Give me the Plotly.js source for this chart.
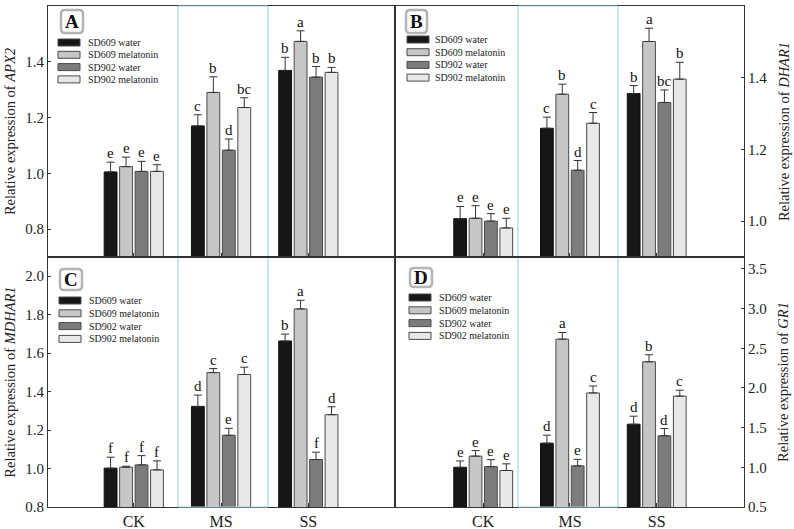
<!DOCTYPE html>
<html>
<head>
<meta charset="utf-8">
<script src="https://cdn.plot.ly/plotly-3.0.1.min.js"></script>
<style>
  html, body { margin: 0; padding: 0; background: #fff; }
  #chart { width: 794px; height: 529px; }
</style>
</head>
<body>
<div id="chart"></div>
<script>
// Treatments on the x axis and the four genotype/treatment series
const categories = ['CK', 'MS', 'SS'];
const seriesNames = ['SD609 water', 'SD609 melatonin', 'SD902 water', 'SD902 melatonin'];
const seriesColors = ['#161616', '#c6c6c6', '#7c7c7c', '#e8e8e8'];

// APX2 relative expression (rows follow seriesNames, columns follow categories)
const APX2_mean = [
  [1.005, 1.170, 1.369],
  [1.024, 1.290, 1.473],
  [1.007, 1.083, 1.345],
  [1.007, 1.236, 1.362]
];
const APX2_err = [
  [0.035, 0.040, 0.047],
  [0.034, 0.056, 0.038],
  [0.036, 0.040, 0.038],
  [0.024, 0.035, 0.018]
];
const APX2_letters = [
  ['e', 'c', 'b'],
  ['e', 'b', 'a'],
  ['e', 'd', 'b'],
  ['e', 'bc', 'b']
];

// DHAR1
const DHAR1_mean = [
  [1.007, 1.259, 1.356],
  [1.008, 1.354, 1.501],
  [1.000, 1.142, 1.331],
  [0.981, 1.273, 1.396]
];
const DHAR1_err = [
  [0.034, 0.031, 0.022],
  [0.035, 0.028, 0.037],
  [0.021, 0.027, 0.035],
  [0.027, 0.030, 0.047]
];
const DHAR1_letters = [
  ['e', 'c', 'b'],
  ['e', 'b', 'a'],
  ['e', 'd', 'bc'],
  ['e', 'c', 'b']
];

// MDHAR1
const MDHAR1_mean = [
  [1.002, 1.323, 1.663],
  [1.007, 1.499, 1.830],
  [1.019, 1.173, 1.047],
  [0.993, 1.489, 1.280]
];
const MDHAR1_err = [
  [0.057, 0.059, 0.036],
  [0.005, 0.021, 0.045],
  [0.048, 0.036, 0.038],
  [0.047, 0.038, 0.041]
];
const MDHAR1_letters = [
  ['f', 'd', 'b'],
  ['f', 'c', 'a'],
  ['f', 'e', 'f'],
  ['f', 'c', 'd']
];

// GR1
const GR1_mean = [
  [1.000, 1.304, 1.543],
  [1.141, 2.615, 2.330],
  [1.009, 1.018, 1.397],
  [0.960, 1.937, 1.897]
];
const GR1_err = [
  [0.080, 0.101, 0.101],
  [0.070, 0.084, 0.088],
  [0.088, 0.083, 0.092],
  [0.084, 0.088, 0.075]
];
const GR1_letters = [
  ['e', 'd', 'd'],
  ['e', 'a', 'b'],
  ['e', 'e', 'd'],
  ['e', 'c', 'c']
];

const FONT = '"Liberation Serif", "Times New Roman", Times, serif';
const AXIS_COLOR = '#333';
const BARGAP = 0.291;
const GROUPGAP = 0.17;
const SLOT = (1 - BARGAP) / seriesNames.length;

// figure geometry in pixels
const W = 794, H = 529;
const M = { l: 48, r: 50, t: 6, b: 22 };
const PW = W - M.l - M.r, PH = H - M.t - M.b;
const px = x => (x - M.l) / PW;
const py = y => (H - M.b - y) / PH;

const panels = [
  { key: 'A', gene: 'APX2', mean: APX2_mean, err: APX2_err, letters: APX2_letters,
    xa: 'x', ya: 'y', range: [0.7, 1.6], ticks: [0.8, 1.0, 1.2, 1.4, 1.6], side: 'left' },
  { key: 'B', gene: 'DHAR1', mean: DHAR1_mean, err: DHAR1_err, letters: DHAR1_letters,
    xa: 'x2', ya: 'y2', range: [0.9, 1.6], ticks: [1.0, 1.2, 1.4, 1.6], side: 'right' },
  { key: 'C', gene: 'MDHAR1', mean: MDHAR1_mean, err: MDHAR1_err, letters: MDHAR1_letters,
    xa: 'x3', ya: 'y3', range: [0.8, 2.1], ticks: [0.8, 1.0, 1.2, 1.4, 1.6, 1.8, 2.0], side: 'left' },
  { key: 'D', gene: 'GR1', mean: GR1_mean, err: GR1_err, letters: GR1_letters,
    xa: 'x4', ya: 'y4', range: [0.5, 3.65], ticks: [0.5, 1.0, 1.5, 2.0, 2.5, 3.0, 3.5], side: 'right' }
];

const xIdx = categories.map((c, i) => i);
const traces = [];
const annotations = [];
const shapes = [];

panels.forEach(p => {
  seriesNames.forEach((name, s) => {
    traces.push({
      type: 'bar',
      name: name,
      x: xIdx,
      y: p.mean[s],
      xaxis: p.xa,
      yaxis: p.ya,
      showlegend: false,
      marker: { color: seriesColors[s], line: { color: s === 0 ? '#111' : '#4a4a4a', width: 1 } },
      error_y: {
        type: 'data', array: p.err[s], symmetric: false,
        arrayminus: p.err[s].map(() => 0),
        color: '#333', thickness: 1, width: 4
      },
      hoverinfo: 'skip'
    });
    // significance letters above each error bar
    p.mean[s].forEach((v, g) => {
      annotations.push({
        xref: p.xa, yref: p.ya,
        x: g + (s - 1.5) * SLOT,
        y: v + p.err[s][g],
        text: p.letters[s][g],
        showarrow: false, yanchor: 'bottom', xanchor: 'center',
        yshift: -1,
        font: { family: FONT, size: 15, color: '#111' }
      });
    });
  });
});

// panel boxes (pixel geometry)
const boxes = {
  A: { label: [61, 10, 83, 33], leg: [58, 86, 42.5, 12.3] },
  B: { label: [406, 10, 427, 33], leg: [407, 433, 39.5, 12.7] },
  C: { label: [60, 269, 82, 290], leg: [59, 87, 300.5, 12.8] },
  D: { label: [410, 268, 432, 287], leg: [409, 437, 297.5, 12.8] }
};

function roundRect(x0, y0, x1, y1, r) {
  const X = v => px(v), Y = v => py(v);
  return `M ${X(x0 + r)} ${Y(y0)} L ${X(x1 - r)} ${Y(y0)} Q ${X(x1)} ${Y(y0)} ${X(x1)} ${Y(y0 + r)} ` +
         `L ${X(x1)} ${Y(y1 - r)} Q ${X(x1)} ${Y(y1)} ${X(x1 - r)} ${Y(y1)} ` +
         `L ${X(x0 + r)} ${Y(y1)} Q ${X(x0)} ${Y(y1)} ${X(x0)} ${Y(y1 - r)} ` +
         `L ${X(x0)} ${Y(y0 + r)} Q ${X(x0)} ${Y(y0)} ${X(x0 + r)} ${Y(y0)} Z`;
}

Object.keys(boxes).forEach(k => {
  const b = boxes[k];
  const [lx0, ly0, lx1, ly1] = b.label;
  shapes.push({
    type: 'path', xref: 'paper', yref: 'paper', path: roundRect(lx0, ly0, lx1, ly1, 4),
    fillcolor: '#fff', line: { color: '#b4b4b4', width: 2.5 }, layer: 'above'
  });
  annotations.push({
    xref: 'paper', yref: 'paper', x: px((lx0 + lx1) / 2), y: py((ly0 + ly1) / 2),
    text: '<b>' + k + '</b>', showarrow: false, xanchor: 'center', yanchor: 'middle',
    font: { family: FONT, size: 19, color: '#111' }
  });
  const [sx, tx, ry, dy] = b.leg;
  seriesNames.forEach((name, s) => {
    const yc = ry + s * dy;
    shapes.push({
      type: 'rect', xref: 'paper', yref: 'paper',
      x0: px(sx), x1: px(sx + 22), y0: py(yc - 3.5), y1: py(yc + 3.5),
      fillcolor: seriesColors[s], line: { color: '#4a4a4a', width: 1 }, layer: 'above'
    });
    annotations.push({
      xref: 'paper', yref: 'paper', x: px(tx), y: py(yc),
      text: name, showarrow: false, xanchor: 'left', yanchor: 'middle',
      font: { family: FONT, size: 10, color: '#222' }
    });
  });
});

// light blue frame around the MS group in each panel
const cyan = '#9fd6ec';
function seg(x0, y0, x1, y1) {
  shapes.push({ type: 'line', xref: 'paper', yref: 'paper',
    x0: px(x0), y0: py(y0), x1: px(x1), y1: py(y1),
    line: { color: cyan, width: 1.2 }, layer: 'above' });
}
// top row
seg(178, 6, 178, 256); seg(268, 6, 268, 256); seg(178, 6, 268, 6);
seg(518, 6, 518, 256); seg(618, 6, 618, 256); seg(518, 6, 618, 6);
// bottom row
seg(178, 258, 178, 507); seg(268, 258, 268, 507); seg(178, 507, 268, 507);
seg(518, 258, 518, 507); seg(618, 258, 618, 507); seg(518, 507, 618, 507);

const xSplit = px(395);
const ySplit = py(257);

function xAxis(domain, anchor, labels, range) {
  return {
    domain: domain, anchor: anchor, range: range,
    tickvals: xIdx, ticktext: categories, showticklabels: labels,
    ticks: 'inside', ticklen: 4, tickcolor: AXIS_COLOR,
    showline: true, linecolor: AXIS_COLOR, linewidth: 1, mirror: true,
    showgrid: false, zeroline: false,
    tickfont: { family: FONT, size: 16, color: '#222' }
  };
}
function yAxis(p, domain, anchor) {
  return {
    domain: domain, anchor: anchor, side: p.side, range: p.range,
    tickvals: p.ticks, tickformat: '.1f',
    ticks: 'inside', ticklen: 3, tickcolor: AXIS_COLOR,
    showline: true, linecolor: AXIS_COLOR, linewidth: 1, mirror: true,
    showgrid: false, zeroline: false,
    tickfont: { family: FONT, size: 15, color: '#222' },
    title: { text: 'Relative expression of <i>' + p.gene + '</i>',
             font: { family: FONT, size: 14.5, color: '#222' },
             standoff: p.side === 'right' ? 12 : 6 }
  };
}

const layout = {
  width: W, height: H,
  margin: M,
  font: { family: FONT },
  paper_bgcolor: '#fff', plot_bgcolor: 'rgba(0,0,0,0)',
  barmode: 'group', bargap: BARGAP, bargroupgap: GROUPGAP,
  showlegend: false,
  xaxis: xAxis([0, xSplit], 'y', false, [-0.983, 2.993]),
  xaxis2: xAxis([xSplit, 1], 'y2', false, [-1.017, 3.006]),
  xaxis3: xAxis([0, xSplit], 'y3', true, [-0.983, 2.993]),
  xaxis4: xAxis([xSplit, 1], 'y4', true, [-1.017, 3.006]),
  yaxis: yAxis(panels[0], [ySplit, 1], 'x'),
  yaxis2: yAxis(panels[1], [ySplit, 1], 'x2'),
  yaxis3: yAxis(panels[2], [0, ySplit], 'x3'),
  yaxis4: yAxis(panels[3], [0, ySplit], 'x4'),
  annotations: annotations,
  shapes: shapes
};

Plotly.newPlot('chart', traces, layout, { displayModeBar: false, staticPlot: true });
</script>
</body>
</html>
